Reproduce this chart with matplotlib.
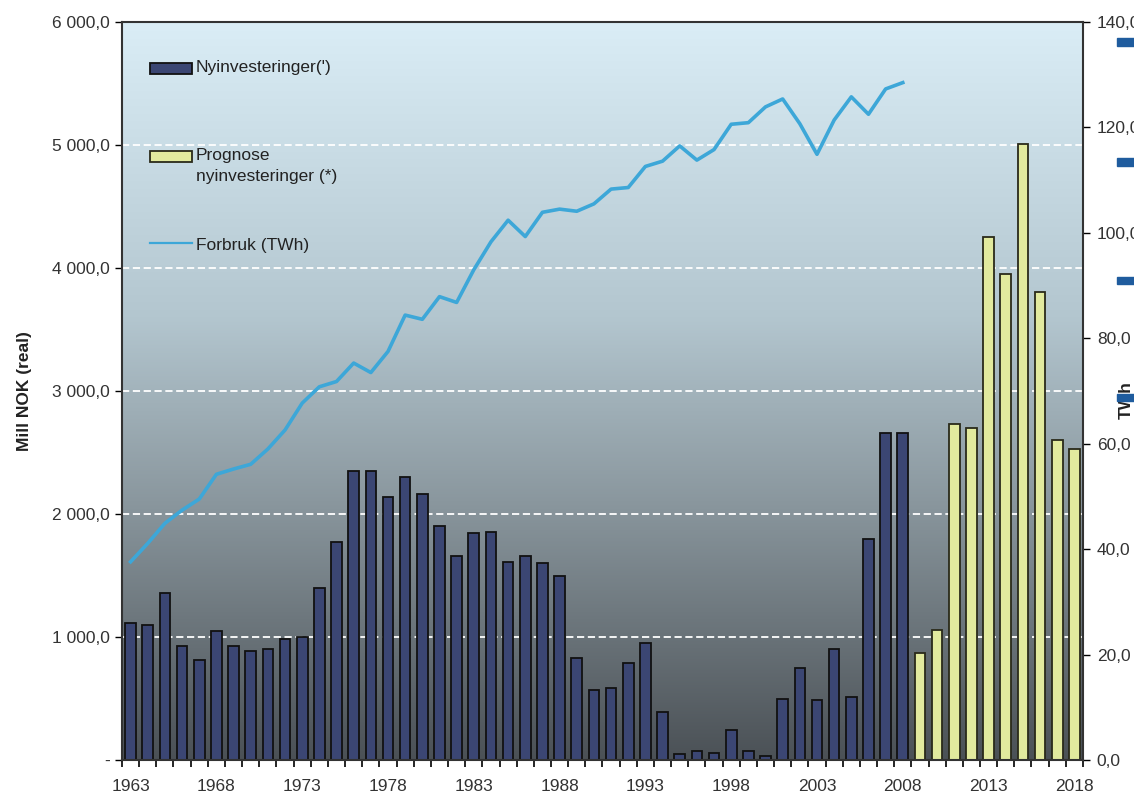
import numpy as np
import matplotlib
matplotlib.use("Agg")
import matplotlib.pyplot as plt
from matplotlib.colors import LinearSegmentedColormap
from matplotlib.patches import Rectangle
from matplotlib.lines import Line2D
from matplotlib.ticker import FuncFormatter

plt.rcParams['font.family'] = ['Liberation Sans', 'DejaVu Sans']

# historic new investments, mill NOK (real)
years_hist = list(range(1963, 2009))
nyinv = [1110, 1100, 1360, 930, 815, 1045, 930, 885, 900, 985,
         1000, 1400, 1775, 2350, 2350, 2140, 2300, 2160, 1900, 1660,
         1845, 1855, 1610, 1660, 1600, 1500, 830, 570, 585, 790,
         950, 390, 50, 75, 60, 245, 75, 35, 495, 750,
         490, 900, 510, 1800, 2660, 2660]

# forecast
years_prog = list(range(2009, 2019))
prognose = [870, 1055, 2730, 2700, 4250, 3950, 5010, 3805, 2600, 2530]

# consumption, TWh
forbruk = [37.6, 41.1, 44.9, 47.4, 49.5, 54.2, 55.2, 56.1, 59.0, 62.6,
           67.7, 70.8, 71.8, 75.3, 73.5, 77.5, 84.4, 83.6, 87.9, 86.8,
           93.0, 98.3, 102.4, 99.3, 103.9, 104.5, 104.1, 105.5, 108.3, 108.6,
           112.6, 113.6, 116.5, 113.8, 115.8, 120.6, 120.9, 123.9, 125.4, 120.7,
           114.9, 121.4, 125.8, 122.5, 127.3, 128.5]

label_years = list(range(1963, 2019, 5))

bar_col = "#3b4673"
prog_col = "#e2ea9e"
line_col = "#3da7d8"


def nok_fmt(v, pos):
    if v == 0:
        return "-"
    s = "{:,.1f}".format(v)
    return s.replace(",", " ").replace(".", ",")


def twh_fmt(v, pos):
    return "{:.1f}".format(v).replace(".", ",")


fig = plt.figure(figsize=(11.34, 8), dpi=100)
ax = fig.add_axes([0.1076, 0.05, 0.8474, 0.9225])

# gradient background
cmap = LinearSegmentedColormap.from_list(
    "bg", [(0.0, "#4b5156"), (0.35, "#8a979e"), (0.6, "#b3c6cf"), (1.0, "#daedf6")])
grad = np.linspace(0, 1, 256).reshape(-1, 1)
ax.imshow(grad, cmap=cmap, aspect="auto", origin="lower",
          extent=[0, 1, 0, 1], transform=ax.transAxes, zorder=0)

ax.set_xlim(1962.5, 2018.5)
ax.set_ylim(0, 6000)
ax.set_yticks(np.arange(0, 6001, 1000))
ax.yaxis.set_major_formatter(FuncFormatter(nok_fmt))
for g in range(1000, 6000, 1000):
    ax.axhline(g, color="white", lw=1.3, ls=(0, (4, 2)), zorder=1)

ax.bar(years_hist, nyinv, width=0.62, color=bar_col, edgecolor="#111111",
       linewidth=1.3, zorder=2)
ax.bar(years_prog, prognose, width=0.62, color=prog_col, edgecolor="#2a2a1a",
       linewidth=1.3, zorder=2)

ax.set_xticks(np.arange(1962.5, 2019, 1))
ax.set_xticklabels([])
ax.set_xticks(label_years, minor=True)
ax.set_xticklabels([str(y) for y in label_years], minor=True)
ax.tick_params(axis="x", which="major", length=5, width=1.2, direction="out")
ax.tick_params(axis="x", which="minor", length=0, pad=14, labelsize=12.5, labelcolor="#333333")
ax.tick_params(axis="y", length=5, width=1, labelsize=12.5, labelcolor="#333333", pad=4)
ax.set_ylabel("Mill NOK (real)", fontsize=12.5, fontweight="bold", color="#222222", labelpad=14)

for side in ["top", "left", "bottom"]:
    ax.spines[side].set_linewidth(1.5)
    ax.spines[side].set_color("#333333")
ax.spines["right"].set_visible(False)

ax2 = ax.twinx()
ax2.set_ylim(0, 140)
ax2.set_yticks(np.arange(0, 141, 20))
ax2.yaxis.set_major_formatter(FuncFormatter(twh_fmt))
ax2.tick_params(axis="y", length=5, width=1, labelsize=12.5, labelcolor="#333333", pad=5)
ax2.spines["right"].set_linewidth(1.5)
ax2.spines["right"].set_color("#333333")
for side in ["top", "left", "bottom"]:
    ax2.spines[side].set_visible(False)
ax2.plot(years_hist, forbruk, color=line_col, lw=2.6, zorder=3)

# legend, spaced like the original
ax.add_patch(Rectangle((0.029, 0.9295), 0.044, 0.015, transform=ax.transAxes,
                       facecolor=bar_col, edgecolor="#111111", lw=1.3, zorder=4))
ax.add_patch(Rectangle((0.029, 0.8103), 0.044, 0.015, transform=ax.transAxes,
                       facecolor=prog_col, edgecolor="#2a2a1a", lw=1.3, zorder=4))
ax.add_line(Line2D([0.029, 0.073], [0.7005, 0.7005], transform=ax.transAxes,
                   color=line_col, lw=1.6, zorder=4))
txt = dict(transform=ax.transAxes, fontsize=12.5, color="#222222", va="center", zorder=4)
ax.text(0.077, 0.9377, "Nyinvesteringer(')", **txt)
ax.text(0.077, 0.8049, "Prognose\nnyinvesteringer (*)", linespacing=1.55, **txt)
ax.text(0.077, 0.6978, "Forbruk (TWh)", **txt)

# right-hand label, partly cut by the image edge
fig.text(0.993, 0.5, "TWh", rotation=90, fontsize=12.5, fontweight="bold",
         color="#222222", ha="center", va="center")

# cropped markers at the right edge
for yy in [0.943, 0.793, 0.645, 0.499]:
    fig.patches.append(Rectangle((0.985, yy), 0.02, 0.009, transform=fig.transFigure,
                                 color="#1f5c9e", zorder=5))

fig.savefig("out.png", dpi=100)
